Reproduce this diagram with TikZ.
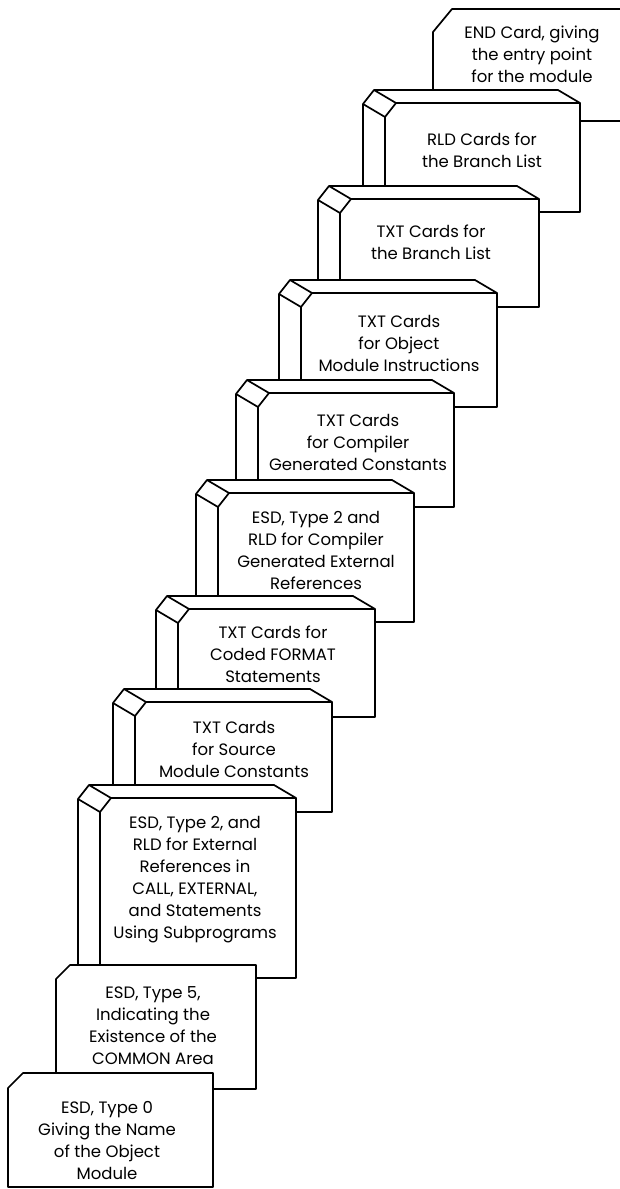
\documentclass[tikz,border=0pt]{standalone}
\usepackage{fontspec}
\setmainfont{Poppins}
\usepackage{tikz}

\begin{document}
\begin{tikzpicture}[x=1pt,y=-1pt,line width=1.7pt,line join=round,
  cardtext/.style={align=center,font=\fontsize{16.5}{22}\selectfont}]
\clip (0,0) rectangle (620,1189);
% END card, runs off the right edge
\filldraw[fill=white] (452,9) -- (640,9) -- (640,121) -- (433,121) -- (433,32) -- cycle;
\node[cardtext] (endcard) at (532,54) {END Card, giving\\the entry point\\for the module};
% decks drawn with depth, top to bottom
\foreach \x/\y/\w/\h/\tx/\ty/\nm/\txt in {
  385/103/195/109/482/150/rldbranch/{RLD Cards for\\the Branch List},
  340/199/199/108/431/242/txtbranch/{TXT Cards for\\the Branch List},
  301/293/196/114/399/343/txtinstr/{TXT Cards\\for Object\\Module Instructions},
  258/393/196/114/358/442/txtconst/{TXT Cards\\for Compiler\\Generated Constants},
  218/493/196/129/316/550/esdcompext/{ESD, Type 2 and\\RLD for Compiler\\Generated External\\References},
  178/609/197/108/273/654/txtformat/{TXT Cards for\\Coded FORMAT\\Statements},
  135/702/197/110/234/749/txtsource/{TXT Cards\\for Source\\Module Constants},
  100/798/196/180/195/880/esdext/{ESD, Type 2, and\\RLD for External\\References in\\CALL, EXTERNAL,\\and Statements\\Using Subprograms}}{
  \filldraw[fill=white] (\x-22,\y+1) -- (\x-11,\y-13) -- (\x+\w-22,\y-13) -- (\x+\w,\y)
    -- (\x+\w,\y+\h) -- (\x,\y+\h) -- (\x-22,\y+\h-13) -- cycle;
  \draw (\x-11,\y-13) -- (\x+11,\y) -- (\x+\w,\y);
  \draw (\x-22,\y+1) -- (\x,\y+14) -- (\x,\y+\h);
  \draw (\x+11,\y) -- (\x,\y+14);
  \node[cardtext] (\nm) at (\tx,\ty) {\txt};
}
% flat cards at the bottom
\foreach \x/\y/\w/\h/\c/\tx/\ty/\nm/\txt in {
  56/965/200/124/14/153/1026/esdcommon/{ESD, Type 5,\\Indicating the\\Existence of the\\COMMON Area},
  8/1073/205/114/15/107/1141/esdname/{ESD, Type 0\\Giving the Name\\of the Object\\Module}}{
  \filldraw[fill=white] (\x+\c,\y) -- (\x+\w,\y) -- (\x+\w,\y+\h) -- (\x,\y+\h) -- (\x,\y+\c) -- cycle;
  \node[cardtext] (\nm) at (\tx,\ty) {\txt};
}
\end{tikzpicture}
\end{document}
